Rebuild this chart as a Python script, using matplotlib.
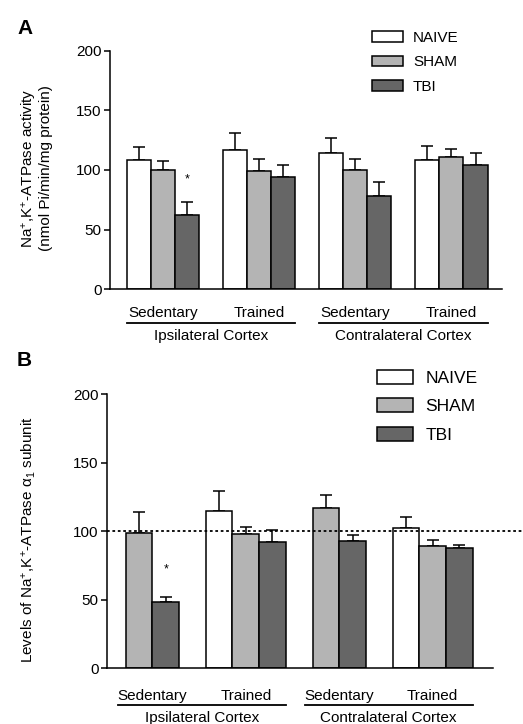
import numpy as np
import matplotlib
matplotlib.use('Agg')
import matplotlib.pyplot as plt

plt.rcParams['font.family'] = ['Liberation Sans', 'DejaVu Sans']
plt.rcParams['mathtext.fontset'] = 'custom'
plt.rcParams['mathtext.rm'] = 'Liberation Sans'
plt.rcParams['mathtext.it'] = 'Liberation Sans:italic'

groups = ['NAIVE', 'SHAM', 'TBI']
colors = ['white', '#b4b4b4', '#666666']
conditions = ['Sedentary', 'Trained', 'Sedentary', 'Trained']
regions = ['Ipsilateral Cortex', 'Contralateral Cortex']

# panel A: Na+,K+-ATPase activity
a_naive = [108, 117, 114.5, 108.5]
a_naive_err = [11, 14, 12, 11.5]
a_sham = [100, 99, 100, 110.5]
a_sham_err = [7.5, 10, 9.5, 7.5]
a_tbi = [62, 94, 78.5, 104.5]
a_tbi_err = [11, 10, 11.5, 10]

# panel B: alpha1 subunit levels (naive sedentary = 100, not drawn)
b_naive = [np.nan, 114.7, np.nan, 102.3]
b_naive_err = [0, 14.6, 0, 8]
b_sham = [99, 97.7, 116.6, 89.4]
b_sham_err = [15, 5.5, 9.8, 4.2]
b_tbi = [48, 92, 93, 87.5]
b_tbi_err = [3.7, 9.2, 4.1, 2.4]


def draw_panel(ax, means, errs, spacing, xlim, star_y, fs, line_span, ypos):
  centers = np.arange(4) * spacing
  for g in range(4):
    present = [k for k in range(3) if not np.isnan(means[k][g])]
    offs = np.arange(len(present)) - (len(present) - 1) / 2.0
    for k, o in zip(present, offs):
      ax.bar(centers[g] + o, means[k][g], width=1.0, color=colors[k],
             edgecolor='black', linewidth=1.1, zorder=2)
      ax.errorbar(centers[g] + o, means[k][g], yerr=[[0], [errs[k][g]]],
                  fmt='none', ecolor='black', elinewidth=1.1, capsize=4.3,
                  capthick=1.1, zorder=1)
      if g == 0 and k == 2:
        ax.text(centers[g] + o, star_y, '*', ha='center', va='center',
                fontsize=9)
  ax.set_xlim(*xlim)
  ax.set_ylim(0, 200)
  ax.set_yticks([0, 50, 100, 150, 200])
  ax.set_xticks([])
  ax.spines['top'].set_visible(False)
  ax.spines['right'].set_visible(False)
  ax.spines['left'].set_linewidth(1.1)
  ax.spines['bottom'].set_linewidth(1.1)
  ax.tick_params(axis='y', direction='out', length=4, width=1.1,
                 labelsize=11, pad=2)
  tr = ax.get_xaxis_transform()
  for g in range(4):
    ax.text(centers[g], ypos[0], conditions[g], transform=tr, ha='center',
            va='baseline', fontsize=fs)
  for r in range(2):
    x0 = centers[2 * r] + line_span[0]
    x1 = centers[2 * r + 1] + line_span[1]
    ax.plot([x0, x1], [ypos[1], ypos[1]], color='black', lw=1.3,
            transform=tr, clip_on=False)
    ax.text((x0 + x1) / 2, ypos[2], regions[r], transform=tr, ha='center',
            va='baseline', fontsize=fs)


fig = plt.figure(figsize=(5.23, 7.24), dpi=100)

ax1 = fig.add_axes([0.2103, 0.6004, 0.7495, 0.3296])
draw_panel(ax1, [a_naive, a_sham, a_tbi], [a_naive_err, a_sham_err, a_tbi_err],
           4, (-2.2, 14.1), 92, 11, (-1.5, 1.5), (-0.115, -0.141, -0.2125))
ax1.set_ylabel('Na$^{+}$,K$^{+}$-ATPase activity\n(nmol Pi/min/mg protein)',
               fontsize=11, linespacing=1.0)
ax1.yaxis.set_label_coords(-0.145, 0.508)
h1 = [plt.Rectangle((0, 0), 1, 1, fc=c, ec='black', lw=1.1) for c in colors]
ax1.legend(h1, groups, loc='upper left', bbox_to_anchor=(372 / 523, 1 - 31 / 724),
           bbox_transform=fig.transFigure, frameon=False, fontsize=11,
           handlelength=2.03, handleheight=0.72, labelspacing=0.68,
           handletextpad=0.65, borderpad=0, borderaxespad=0)

ax2 = fig.add_axes([0.2046, 0.0769, 0.738, 0.3789])
draw_panel(ax2, [b_naive, b_sham, b_tbi], [b_naive_err, b_sham_err, b_tbi_err],
           3.5, (-1.7, 12.76), 72, 11, (-1.3, 1.5), (-0.1156, -0.134, -0.196))
ax2.axhline(100, xmin=0, xmax=(523 - 107) / 386, color='black', lw=1.3,
            linestyle=(0, (1.5, 1.5)), clip_on=False, zorder=3)
ax2.set_ylabel('Levels of Na$^{+}$,K$^{+}$-ATPase α$_{1}$ subunit', fontsize=11)
ax2.yaxis.set_label_coords(-0.179, 0.47)
h2 = [plt.Rectangle((0, 0), 1, 1, fc=c, ec='black', lw=1.1) for c in colors]
ax2.legend(h2, groups, loc='upper left', bbox_to_anchor=(377 / 523, 1 - 370 / 724),
           bbox_transform=fig.transFigure, frameon=False, fontsize=12.5,
           handlelength=2.1, handleheight=0.86, labelspacing=0.72,
           handletextpad=0.69, borderpad=0, borderaxespad=0)

fig.text(17 / 523, 1 - 34 / 724, 'A', fontsize=15, fontweight='bold',
         va='baseline')
fig.text(17 / 523, 1 - 366 / 724, 'B', fontsize=15, fontweight='bold',
         va='baseline')

fig.savefig('out.png', dpi=100)
